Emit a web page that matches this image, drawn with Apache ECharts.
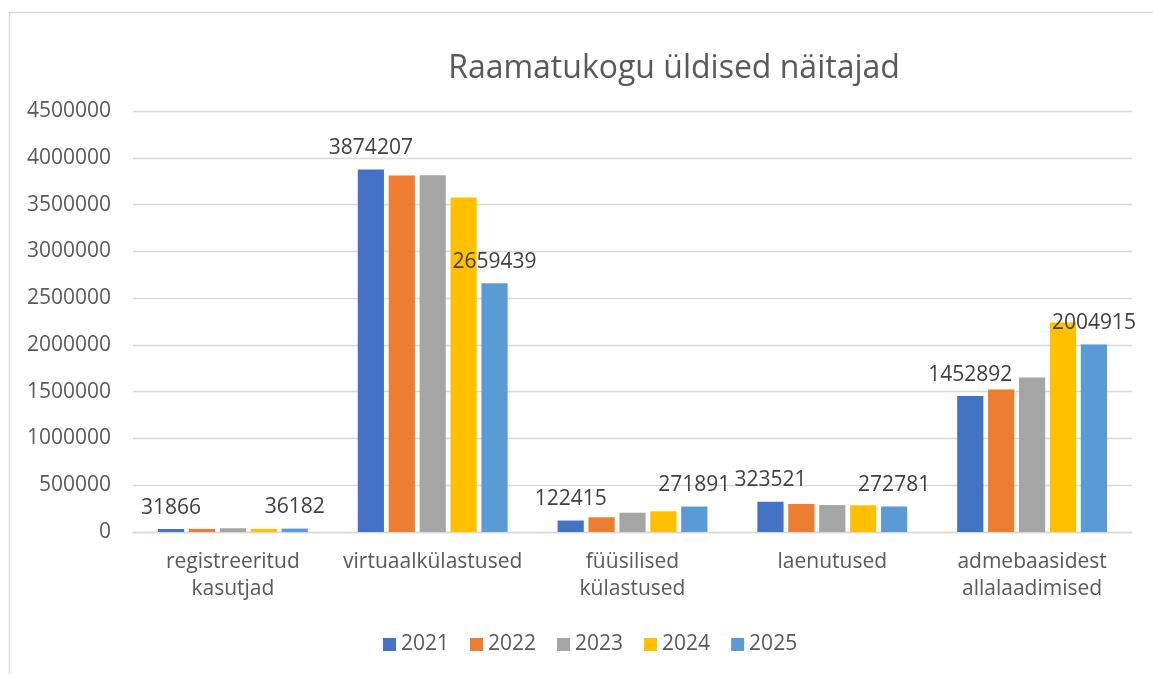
<!DOCTYPE html>
<html>
<head>
<meta charset="utf-8">
<script src="https://cdn.jsdelivr.net/npm/echarts@6/dist/echarts.min.js"></script>
<style>
  html, body { margin: 0; padding: 0; background: #fff; }
  #chart { width: 1153px; height: 674px; }
</style>
</head>
<body>
<div id="chart"></div>
<script>
// kategooriad ja aastate andmed
const categories = [
  "registreeritud\nkasutjad",
  "virtuaalkülastused",
  "füüsilised\nkülastused",
  "laenutused",
  "admebaasidest\nallalaadimised"
]
const years = ["2021", "2022", "2023", "2024", "2025"]
const y2021 = [31866, 3874207, 122415, 323521, 1452892]
const y2022 = [33000, 3810000, 157000, 299000, 1524000]
const y2023 = [40000, 3812000, 206000, 288000, 1652000]
const y2024 = [33000, 3576000, 221000, 285000, 2240000]
const y2025 = [36182, 2659439, 271891, 272781, 2004915]
const yearValues = [y2021, y2022, y2023, y2024, y2025]
// ainult esimesel ja viimasel aastal on sildid
const labelled = [true, false, false, false, true]

const colors = ["#4472C4", "#ED7D31", "#A5A5A5", "#FFC000", "#5B9BD5"]
const font = "'Open Sans', 'Noto Sans', sans-serif"

const chart = echarts.init(document.getElementById("chart"))

const option = {
  animation: false,
  color: colors,
  textStyle: { fontFamily: font },
  graphic: [
    {
      type: "rect",
      shape: { x: 9.5, y: 12.5, width: 1300, height: 800 },
      style: { fill: "none", stroke: "#D9D9D9", lineWidth: 1.5 },
      silent: true
    }
  ],
  title: {
    text: "Raamatukogu üldised näitajad",
    left: 669,
    top: 48,
    textAlign: "center",
    textStyle: { fontFamily: font, fontSize: 32, fontWeight: "normal", color: "#595959" }
  },
  legend: {
    data: years,
    left: 378,
    bottom: 14,
    itemWidth: 13,
    itemHeight: 13,
    itemGap: 21,
    icon: "rect",
    textStyle: { fontFamily: font, fontSize: 21, color: "#595959" }
  },
  grid: {
    left: 133,
    right: 21,
    top: 111,
    bottom: 142
  },
  xAxis: {
    type: "category",
    data: categories,
    axisTick: { show: false },
    axisLine: { lineStyle: { color: "#D9D9D9", width: 1.3 } },
    axisLabel: {
      color: "#595959",
      fontSize: 21,
      lineHeight: 27,
      margin: 17,
      interval: 0,
      fontFamily: font
    }
  },
  yAxis: {
    type: "value",
    min: 0,
    max: 4500000,
    interval: 500000,
    axisLine: { show: false },
    axisTick: { show: false },
    splitLine: { lineStyle: { color: "#D9D9D9", width: 1.3 } },
    axisLabel: {
      color: "#595959",
      fontSize: 21,
      margin: 22,
      fontFamily: font,
      formatter: (v) => String(v)
    }
  },
  series: years.map((year, i) => ({
    name: year,
    type: "bar",
    data: yearValues[i],
    barGap: "18%",
    barCategoryGap: "25%",
    label: {
      show: labelled[i],
      position: "top",
      distance: 11,
      color: "#404040",
      fontSize: 21,
      fontFamily: font
    }
  }))
}

chart.setOption(option)

window.addEventListener("resize", () => {
  chart.resize()
})
</script>
</body>
</html>
